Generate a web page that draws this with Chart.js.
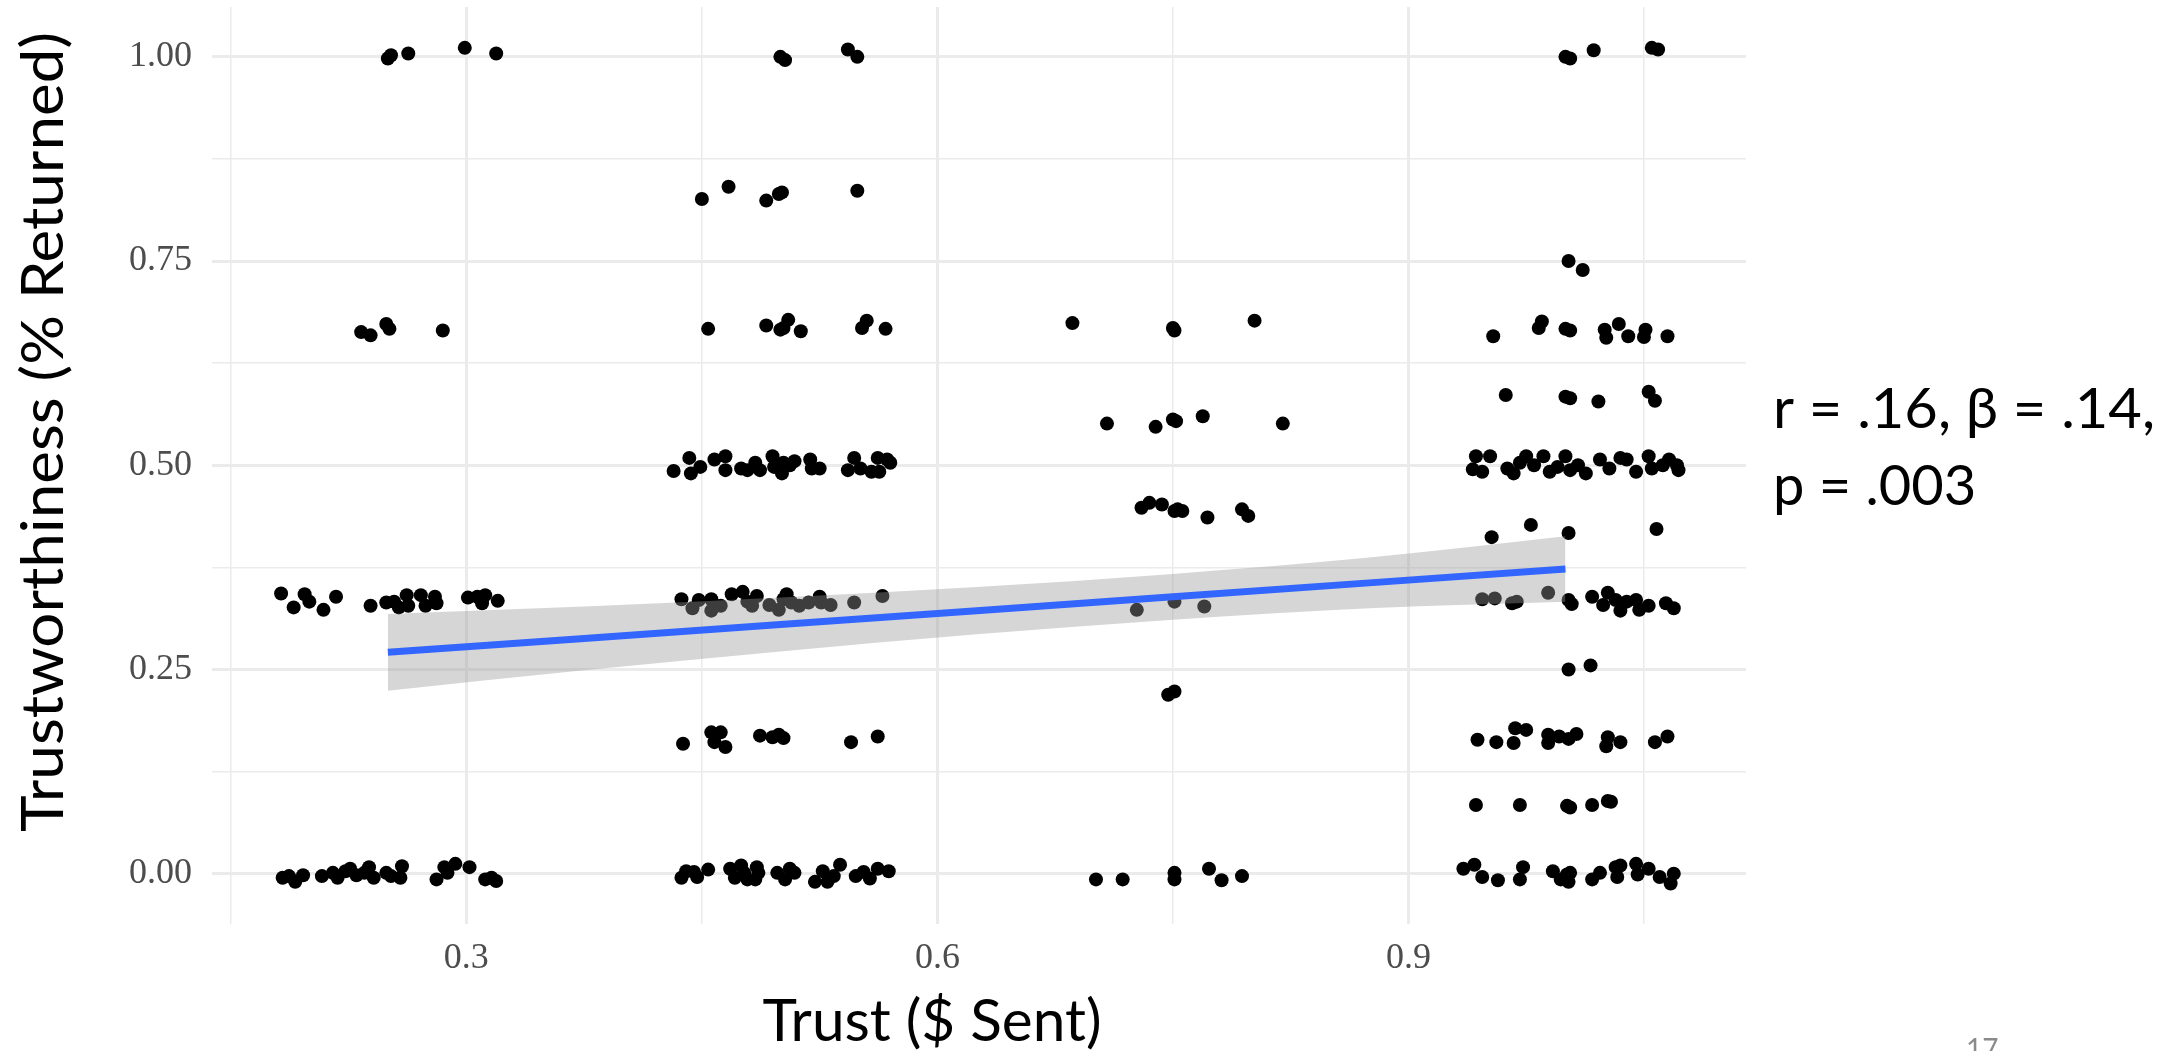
<!DOCTYPE html>
<html>
<head>
<meta charset="utf-8">
<title>Trust vs Trustworthiness</title>
<script src="https://cdn.jsdelivr.net/npm/chart.js@4.4.1/dist/chart.umd.min.js"></script>
<style>
  html, body { margin: 0; padding: 0; background: #fff; }
  canvas { display: block; }
</style>
</head>
<body>
<canvas id="trustChart" width="2170" height="1051"></canvas>
<script>
// jittered points, [trust sent, proportion returned], grouped by amount sent
const sent25 = [
  [0.250, 0.998], [0.252, 1.002], [0.263, 1.004], [0.299, 1.011], [0.319, 1.004],
  [0.233, 0.663], [0.239, 0.659], [0.249, 0.673], [0.251, 0.667], [0.285, 0.665],
  [0.182, 0.343], [0.190, 0.326], [0.197, 0.342], [0.200, 0.333], [0.209, 0.323], [0.217, 0.339],
  [0.239, 0.328], [0.249, 0.332], [0.254, 0.333], [0.257, 0.326], [0.262, 0.341], [0.263, 0.328],
  [0.271, 0.341], [0.274, 0.328], [0.280, 0.339], [0.281, 0.331], [0.301, 0.338], [0.307, 0.339],
  [0.312, 0.341], [0.310, 0.331], [0.320, 0.334],
  [0.183, -0.005], [0.187, -0.003], [0.191, -0.010], [0.196, -0.002], [0.208, -0.003], [0.215, 0.001],
  [0.218, -0.005], [0.223, 0.003], [0.226, 0.006], [0.230, -0.002], [0.235, 0.001], [0.238, 0.008],
  [0.241, -0.005], [0.249, 0.001], [0.252, -0.003], [0.258, -0.005], [0.259, 0.009], [0.281, -0.007],
  [0.286, 0.008], [0.288, 0.001], [0.293, 0.012], [0.302, 0.008], [0.312, -0.007], [0.316, -0.005],
  [0.319, -0.009]
];

const sent50 = [
  [0.500, 1.000], [0.503, 0.996], [0.543, 1.009], [0.549, 1.000],
  [0.450, 0.826], [0.467, 0.841], [0.491, 0.824], [0.501, 0.834], [0.499, 0.832], [0.549, 0.836],
  [0.454, 0.667], [0.491, 0.671], [0.505, 0.678], [0.500, 0.666], [0.502, 0.668], [0.513, 0.664],
  [0.552, 0.668], [0.555, 0.677], [0.567, 0.667],
  [0.432, 0.493], [0.442, 0.509], [0.443, 0.490], [0.449, 0.498], [0.458, 0.507], [0.465, 0.511],
  [0.465, 0.494], [0.475, 0.496], [0.479, 0.494], [0.484, 0.503], [0.487, 0.494], [0.495, 0.511],
  [0.496, 0.498], [0.501, 0.490], [0.502, 0.503], [0.506, 0.500], [0.509, 0.505], [0.519, 0.507],
  [0.520, 0.496], [0.525, 0.496], [0.543, 0.494], [0.547, 0.509], [0.551, 0.496], [0.558, 0.492],
  [0.562, 0.509], [0.563, 0.492], [0.568, 0.507], [0.570, 0.503],
  [0.437, 0.336], [0.444, 0.325], [0.448, 0.335], [0.456, 0.336], [0.456, 0.322], [0.462, 0.328],
  [0.469, 0.342], [0.476, 0.345], [0.479, 0.333], [0.482, 0.328], [0.485, 0.340], [0.493, 0.329],
  [0.499, 0.323], [0.502, 0.336], [0.504, 0.342], [0.507, 0.332], [0.512, 0.328], [0.518, 0.332],
  [0.525, 0.339], [0.526, 0.332], [0.532, 0.329], [0.547, 0.332], [0.565, 0.340],
  [0.438, 0.159], [0.456, 0.173], [0.462, 0.173], [0.458, 0.161], [0.465, 0.155], [0.487, 0.169],
  [0.495, 0.167], [0.502, 0.166], [0.499, 0.170], [0.545, 0.161], [0.562, 0.168],
  [0.437, -0.005], [0.440, 0.003], [0.445, 0.002], [0.447, -0.004], [0.454, 0.005], [0.468, 0.006],
  [0.471, -0.005], [0.475, 0.010], [0.477, 0.001], [0.479, -0.007], [0.484, -0.007], [0.485, 0.008],
  [0.486, 0.001], [0.498, 0.001], [0.503, -0.007], [0.506, 0.006], [0.509, 0.001], [0.522, -0.010],
  [0.527, 0.003], [0.530, -0.010], [0.534, -0.003], [0.538, 0.011], [0.548, -0.003], [0.553, 0.002],
  [0.557, -0.006], [0.562, 0.006], [0.569, 0.003]
];

const sent75 = [
  [0.686, 0.674], [0.750, 0.668], [0.751, 0.665], [0.802, 0.677],
  [0.708, 0.551], [0.739, 0.547], [0.750, 0.556], [0.752, 0.554], [0.769, 0.560], [0.820, 0.551],
  [0.730, 0.448], [0.735, 0.454], [0.743, 0.452], [0.751, 0.444], [0.753, 0.446], [0.756, 0.444],
  [0.772, 0.436], [0.794, 0.446], [0.798, 0.438],
  [0.727, 0.323], [0.751, 0.333], [0.770, 0.327],
  [0.747, 0.219], [0.751, 0.223],
  [0.701, -0.007], [0.718, -0.007], [0.751, 0.001], [0.751, -0.007], [0.773, 0.006], [0.781, -0.008],
  [0.794, -0.003]
];

const sent100 = [
  [1.000, 1.000], [1.003, 0.998], [1.018, 1.008], [1.055, 1.011], [1.059, 1.009],
  [1.002, 0.750], [1.011, 0.739],
  [0.954, 0.658], [0.983, 0.668], [0.985, 0.676], [1.000, 0.667], [1.003, 0.665], [1.025, 0.666],
  [1.026, 0.656], [1.034, 0.673], [1.040, 0.658], [1.051, 0.666], [1.050, 0.657], [1.065, 0.658],
  [0.962, 0.586], [1.000, 0.584], [1.003, 0.582], [1.021, 0.578], [1.053, 0.590], [1.057, 0.579],
  [0.943, 0.511], [0.952, 0.511], [0.941, 0.495], [0.947, 0.492], [0.963, 0.496], [0.967, 0.490],
  [0.971, 0.503], [0.975, 0.511], [0.980, 0.500], [0.986, 0.511], [0.990, 0.492], [0.995, 0.498],
  [1.000, 0.511], [1.003, 0.494], [1.008, 0.500], [1.013, 0.490], [1.022, 0.507], [1.028, 0.496],
  [1.035, 0.509], [1.039, 0.507], [1.045, 0.492], [1.053, 0.511], [1.055, 0.496], [1.062, 0.500],
  [1.066, 0.507], [1.072, 0.494], [1.071, 0.500],
  [0.953, 0.412], [0.978, 0.427], [1.002, 0.417], [1.058, 0.422],
  [0.947, 0.336], [0.955, 0.337], [0.966, 0.331], [0.969, 0.333], [0.989, 0.344], [1.002, 0.335],
  [1.004, 0.330], [1.017, 0.339], [1.024, 0.329], [1.027, 0.344], [1.032, 0.335], [1.035, 0.322],
  [1.039, 0.333], [1.045, 0.335], [1.047, 0.323], [1.053, 0.328], [1.064, 0.331], [1.069, 0.325],
  [1.002, 0.250], [1.016, 0.255],
  [0.944, 0.164], [0.956, 0.161], [0.967, 0.160], [0.968, 0.178], [0.975, 0.176], [0.989, 0.170],
  [0.989, 0.160], [0.996, 0.168], [1.002, 0.165], [1.007, 0.171], [1.027, 0.167], [1.026, 0.156],
  [1.035, 0.161], [1.057, 0.161], [1.065, 0.168],
  [0.943, 0.084], [0.971, 0.084], [1.001, 0.083], [1.003, 0.081], [1.017, 0.084], [1.027, 0.089],
  [1.029, 0.088],
  [0.935, 0.006], [0.942, 0.011], [0.947, -0.004], [0.957, -0.008], [0.971, -0.007], [0.973, 0.008],
  [0.992, 0.003], [0.997, -0.007], [1.001, -0.001], [1.002, -0.010], [1.003, 0.001], [1.017, -0.007],
  [1.022, 0.001], [1.032, 0.008], [1.035, 0.010], [1.033, -0.004], [1.045, 0.012], [1.046, -0.001],
  [1.053, 0.006], [1.060, -0.004], [1.067, -0.012], [1.069, 0.000]
];

// linear fit and its confidence band
const fitX = [0.25, 0.375, 0.5, 0.625, 0.75, 0.875, 1.0];
const fitY = [0.271, 0.288, 0.305, 0.322, 0.339, 0.356, 0.373];
const ciUpper = [0.318, 0.327, 0.338, 0.351, 0.367, 0.387, 0.413];
const ciLower = [0.224, 0.249, 0.272, 0.293, 0.311, 0.325, 0.333];

// axis ticks
const xMajor = [0.3, 0.6, 0.9];
const xMinor = [0.15, 0.45, 0.75, 1.05];
const yMajor = [0, 0.25, 0.5, 0.75, 1];
const yMinor = [0.125, 0.375, 0.625, 0.875];

const xTitle = "Trust ($ Sent)";
const yTitle = "Trustworthiness (% Returned)";
const statLines = ["r = .16, \u03B2 = .14,", "p = .003"];
const slideNumber = "17";

const toXY = (pairs) => pairs.map((p) => ({ x: p[0], y: p[1] }));
const zipFit = (ys) => fitX.map((x, i) => ({ x: x, y: ys[i] }));
const isMajor = (list, v) => list.some((m) => Math.abs(m - v) < 1e-6);

const gridColor = "#ebebeb";

// squeeze/stretch a line of text so it spans the given width
function fitText(ctx, text, x, y, width) {
  const w = ctx.measureText(text).width;
  ctx.save();
  ctx.translate(x, y);
  ctx.scale(width / w, 1);
  ctx.fillText(text, 0, 0);
  ctx.restore();
}

// slide text that sits outside the ggplot panel
const slideText = {
  id: "slideText",
  afterDraw(chart) {
    const ctx = chart.ctx;
    ctx.save();
    ctx.fillStyle = "#000";
    ctx.textBaseline = "alphabetic";

    ctx.font = "58px Lato";
    ctx.textAlign = "center";
    fitText(ctx, xTitle, 932, 1041, 339);

    ctx.save();
    ctx.translate(63, 432);
    ctx.rotate(-Math.PI / 2);
    fitText(ctx, yTitle, 0, 0, 800);
    ctx.restore();

    ctx.font = "56px Lato";
    ctx.textAlign = "left";
    fitText(ctx, statLines[0], 1773, 428, 382);
    ctx.fillText(statLines[1], 1773, 505);

    ctx.fillStyle = "#8a8a8a";
    ctx.font = "28px Lato";
    ctx.textBaseline = "top";
    ctx.fillText(slideNumber, 1966, 1036);
    ctx.restore();
  }
};

const ctx = document.getElementById("trustChart").getContext("2d");

new Chart(ctx, {
  data: {
    datasets: [
      {
        type: "line",
        label: "fit",
        data: zipFit(fitY),
        borderColor: "#3366ff",
        borderWidth: 7,
        pointRadius: 0,
        fill: false
      },
      {
        type: "line",
        label: "upper",
        data: zipFit(ciUpper),
        borderWidth: 0,
        borderColor: "rgba(0,0,0,0)",
        pointRadius: 0,
        cubicInterpolationMode: "monotone",
        fill: false
      },
      {
        type: "line",
        label: "lower",
        data: zipFit(ciLower),
        borderWidth: 0,
        borderColor: "rgba(0,0,0,0)",
        pointRadius: 0,
        cubicInterpolationMode: "monotone",
        backgroundColor: "rgba(153,153,153,0.4)",
        fill: "-1"
      },
      {
        type: "scatter",
        label: "points",
        data: toXY(sent25.concat(sent50, sent75, sent100)),
        backgroundColor: "#000",
        borderWidth: 0,
        pointRadius: 7
      }
    ]
  },
  options: {
    responsive: false,
    animation: false,
    devicePixelRatio: 1,
    events: [],
    layout: { padding: { left: 0, right: 424, top: 7, bottom: 0 } },
    plugins: {
      legend: { display: false },
      tooltip: { enabled: false }
    },
    scales: {
      x: {
        type: "linear",
        min: 0.138,
        max: 1.115,
        afterBuildTicks: (scale) => {
          scale.ticks = xMajor.concat(xMinor).sort((a, b) => a - b).map((v) => ({ value: v }));
        },
        afterFit: (scale) => {
          scale.height = 127.5;
          scale.paddingLeft = 0;
          scale.paddingRight = 0;
        },
        border: { display: false },
        grid: {
          drawTicks: false,
          color: gridColor,
          lineWidth: (c) => (isMajor(xMajor, c.tick.value) ? 3 : 1.5)
        },
        ticks: {
          padding: 13,
          color: "#4d4d4d",
          font: { family: "Liberation Serif", size: 36 },
          callback: (v) => (isMajor(xMajor, v) ? v.toFixed(1) : "")
        }
      },
      y: {
        type: "linear",
        min: -0.061,
        max: 1.061,
        afterBuildTicks: (scale) => {
          scale.ticks = yMajor.concat(yMinor).sort((a, b) => a - b).map((v) => ({ value: v }));
        },
        afterFit: (scale) => {
          scale.width = 212;
          scale.paddingTop = 0;
          scale.paddingBottom = 0;
        },
        border: { display: false },
        grid: {
          drawTicks: false,
          color: gridColor,
          lineWidth: (c) => (isMajor(yMajor, c.tick.value) ? 3 : 1.5)
        },
        ticks: {
          padding: 20,
          color: "#4d4d4d",
          font: { family: "Liberation Serif", size: 36 },
          callback: (v) => (isMajor(yMajor, v) ? v.toFixed(2) : "")
        }
      }
    }
  },
  plugins: [slideText]
});
</script>
</body>
</html>
